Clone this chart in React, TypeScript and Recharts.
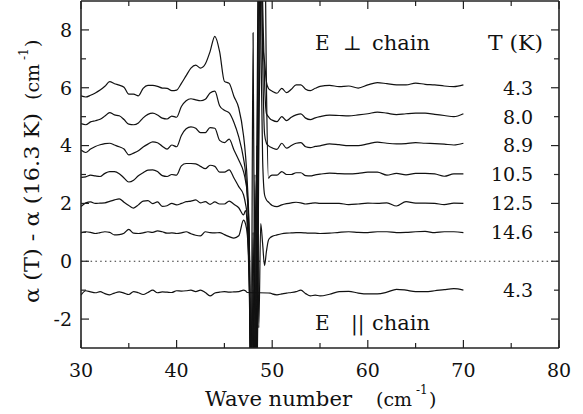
import React from 'react';
import { LineChart, Line, XAxis, YAxis, ReferenceLine, ReferenceDot } from 'recharts';

// Wave number grid (cm^-1)
const waveNumbers = [
  30, 30.5, 31, 31.5, 32, 32.5, 33, 33.5, 34, 34.5, 35, 35.5, 36, 36.5, 37, 37.5, 38, 38.5, 39, 39.5,
  40, 40.5, 41, 41.5, 42, 42.5, 43, 43.5, 44, 44.5, 45, 45.5, 46, 46.5, 47,
  47.2, 47.4, 47.6, 47.8, 48.0, 48.2, 48.4, 48.6, 48.8, 49.0, 49.2, 49.4, 49.6, 49.8,
  50, 50.5, 51, 51.5, 52, 52.5, 53, 53.5, 54, 54.5, 55,
  56, 57, 58, 59, 60, 61, 62, 63, 64, 65, 66, 67, 68, 69, 70,
];

// E perp chain, T = 4.3 K (offset 6)
const perp43 = [
  5.72, 5.68, 5.74, 5.82, 5.92, 6.05, 6.21, 6.14, 6.09, 6.02, 5.78, 5.78, 5.72, 5.98, 6.08, 6.08, 6.05, 5.99, 5.98, 5.9,
  5.92, 6.15, 6.42, 6.68, 6.78, 6.68, 6.82, 7.25, 7.78, 7.25, 6.22, 6.15, 5.7, 5.3, 4.35,
  3.7, 2.7, 0.8, -5, -3, -5, 4, 12, 11, 7.6, 6.9, 6.2, 5.98, 5.92,
  5.88, 5.81, 5.98, 5.83, 5.95, 6.1, 6.1, 5.95, 5.9, 5.98, 6.05,
  6.08, 6.04, 6.06, 5.99, 6.1, 6.18, 6.14, 6.1, 6.1, 6.16, 6.12, 6.1, 6.06, 6.04, 6.1,
];
// T = 8.0 K (offset 5)
const perp80 = [
  4.76, 4.72, 4.82, 4.86, 4.91, 5.02, 5.14, 5.06, 5.03, 4.9, 4.74, 4.72, 4.78, 4.96, 5.08, 5.12, 5.06, 4.95, 4.92, 5.02,
  4.98, 5.35, 5.55, 5.62, 5.58, 5.55, 5.6, 5.82, 5.88, 5.38, 5.22, 5.13, 4.8, 4.3, 3.55,
  3.1, 2.2, 0.5, -4, 7.9, -4, -6, 6, 12, 9, 6.2, 5.1, 5.0, 4.92,
  4.88, 4.83, 5.0, 4.86, 4.98, 5.06, 5.1, 4.95, 4.9, 4.96, 5.0,
  5.05, 5.04, 5.03, 5.06, 5.1, 5.16, 5.12, 5.07, 5.1, 5.12, 5.12, 5.08, 5.04, 5.0, 5.1,
];
// T = 8.9 K (offset 4)
const perp89 = [
  3.85, 3.76, 3.88, 3.97, 4.03, 4.07, 4.08, 4.02, 3.96, 3.88, 3.68, 3.74, 3.82, 3.95, 4.05, 4.13, 4.1, 3.98, 3.88, 4.02,
  3.96, 4.35, 4.58, 4.65, 4.6, 4.45, 4.45, 4.62, 4.6, 4.18, 4.1, 4.22, 3.85, 3.5, 3.1,
  2.8, 2.3, 0.8, -5, -4, 3, -4, 12, 12, 7, 4.4, 4.08, 4.0, 3.95,
  3.92, 3.87, 4.08, 3.91, 4.0, 4.08, 4.1, 3.96, 3.93, 3.97, 3.99,
  4.06, 4.03, 4.0, 4.0, 4.06, 4.12, 4.08, 4.06, 4.07, 4.1, 4.08, 4.07, 4.05, 4.02, 4.08,
];
// T = 10.5 K (offset 3)
const perp105 = [
  2.9, 2.92, 2.98, 2.95, 2.93, 3.04, 3.1, 3.1, 3.03, 2.88, 2.74, 2.8, 2.96, 3.06, 3.15, 3.16, 3.1, 2.96, 2.93, 3.0,
  2.98, 3.3, 3.38, 3.38, 3.37, 3.28, 3.2, 3.32, 3.28, 3.08, 3.08, 3.16, 2.88, 2.58, 2.3,
  2.0, 1.5, -0.5, -4.5, 1, -5, -5, 4, 10, 12, 12, 6, 2.87, 2.95,
  2.98, 2.98, 3.1, 3.0, 3.0, 3.06, 3.06, 2.96, 2.95, 2.99, 3.01,
  3.05, 3.03, 3.02, 3.04, 3.08, 3.08, 2.98, 3.04, 2.99, 3.04, 3.04, 3.02, 2.94, 3.02, 3.02,
];
// T = 12.5 K (offset 2)
const perp125 = [
  1.89, 2.02, 2.05, 2.0, 2.01, 2.02, 2.07, 2.12, 2.16, 2.04, 1.93, 1.84, 1.95, 2.08, 2.1, 1.99, 2.05, 1.9, 1.92, 2.0,
  1.95, 2.0, 2.06, 2.08, 2.12, 2.02, 2.06, 1.97, 2.05, 1.98, 1.98, 2.08, 1.97, 1.85, 1.6,
  1.75, 1.2, -1, -4.5, -1, -4.8, 2, 10.5, 8, 3.5, 2.3, 2.12, 2.05, 1.98,
  1.93, 1.89, 1.95, 1.99, 2.02, 2.04, 2.02, 1.98, 2.0, 2.02, 2.0,
  2.0, 2.0, 1.96, 1.98, 2.01, 2.0, 2.02, 1.91, 2.06, 2.01, 2.01, 2.0, 1.96, 2.01, 2.0,
];
// T = 14.6 K (offset 1)
const perp146 = [
  0.98, 1.02, 1.0, 0.96, 0.99, 1.02, 1.0, 0.91, 0.92, 0.97, 1.1, 0.97, 0.96, 0.98, 1.02, 1.0, 1.05, 1.02, 0.97, 0.98,
  0.96, 0.98, 1.02, 0.95, 0.9, 0.88, 1.02, 0.99, 0.98, 0.99, 0.92, 0.85, 0.8, 0.88, 1.42,
  1.3, 0.9, -0.5, -4.5, -2, -4, 4, -2.3, 1.3, 0.6, -0.15, 0.35, 0.72, 0.82,
  0.86, 0.91, 0.95, 0.97, 0.98, 0.99, 0.99, 0.98, 0.97, 0.97, 0.96,
  0.97, 1.0, 1.02, 1.0, 0.99, 1.02, 1.02, 0.99, 1.0, 1.02, 1.03, 0.99, 1.02, 1.02, 0.99,
];
// E parallel chain, T = 4.3 K (offset -1)
const para43 = [
  -1.17, -1.02, -1.06, -1.09, -1.05, -1.12, -1.16, -1.1, -1.06, -1.1, -1.15, -1.05, -1.09, -1.15, -1.08, -1.0, -1.09, -1.06, -1.07, -1.08,
  -1.02, -1.03, -1.02, -1.0, -1.05, -1.0, -1.08, -1.2, -1.1, -1.07, -1.05, -1.07, -1.06, -1.05, -1.0,
  -1.02, -1.08, null, null, null, null, null, null, null, null, null, null, null, -1.1,
  -1.13, -1.16, -1.13, -1.1, -1.08, -1.05, -1.0, -1.12, -1.2, -1.17, -1.2,
  -1.14, -1.05, -1.04, -1.1, -1.13, -1.13, -1.07, -0.97, -1.0, -1.05, -1.05, -1.02, -0.98, -0.95, -1.0,
];

const seriesKeys = ['p43', 'p80', 'p89', 'p105', 'p125', 'p146', 'q43'];
const seriesValues = [perp43, perp80, perp89, perp105, perp125, perp146, para43];
const tempLabels = ['4.3', '8.0', '8.9', '10.5', '12.5', '14.6', '4.3'];
const tempLevels = [6, 5, 4, 3, 2, 1, -1];
const tempLabelX = 77.3;

const xTicks = [30, 35, 40, 45, 50, 55, 60, 65, 70, 75, 80];
const yTicks = [-2, -1, 0, 1, 2, 3, 4, 5, 6, 7, 8];

const rows = waveNumbers.map((x, i) => {
  const r: Record<string, number | null> = { x };
  seriesKeys.forEach((k, j) => { r[k] = seriesValues[j][i]; });
  return r;
});

const FONT = "'DejaVu Serif', serif";
const INK = '#111';
const FRAME = '#222';
const txt = { fontFamily: FONT };
const TICK_FS = 19;
const TITLE_FS = 20;

function BottomTick(props: any) {
  const { x, y, payload } = props;
  const v = payload.value;
  const major = v % 10 === 0;
  return (
    <g>
      <line x1={x} x2={x} y1={y} y2={y - (major ? 8 : 5)} stroke={FRAME} strokeWidth={1.2} />
      {major && (
        <text x={x} y={y + 29} textAnchor="middle" fontSize={TICK_FS} style={txt} fill={INK}>{v}</text>
      )}
    </g>
  );
}
function TopTick(props: any) {
  const { x, y, payload } = props;
  const major = payload.value % 10 === 0;
  return <line x1={x} x2={x} y1={y} y2={y + (major ? 8 : 5)} stroke={FRAME} strokeWidth={1.2} />;
}
function LeftTick(props: any) {
  const { x, y, payload } = props;
  const v = payload.value;
  const major = v % 2 === 0;
  return (
    <g>
      <line x1={x} x2={x + (major ? 8 : 5)} y1={y} y2={y} stroke={FRAME} strokeWidth={1.2} />
      {major && (
        <text x={x - 9} y={y} dy="0.36em" textAnchor="end" fontSize={TICK_FS} style={txt} fill={INK}>{v}</text>
      )}
    </g>
  );
}
function RightTick(props: any) {
  const { x, y, payload } = props;
  const major = payload.value % 2 === 0;
  return <line x1={x} x2={x - (major ? 8 : 5)} y1={y} y2={y} stroke={FRAME} strokeWidth={1.2} />;
}

export default function App() {
  return (
    <div style={{ position: 'absolute', left: 0, top: 0, width: 583, height: 414, background: '#fff' }}>
      <LineChart width={583} height={414} data={rows} margin={{ top: 0, right: 20, bottom: 36, left: 21 }}>
        <XAxis dataKey="x" type="number" domain={[30, 80]} ticks={xTicks} interval={0} height={30}
          allowDataOverflow tickSize={0} tickMargin={0} tickLine={false} tick={BottomTick}
          axisLine={{ stroke: FRAME, strokeWidth: 1.6 }} />
        <XAxis xAxisId="top" orientation="top" dataKey="x" type="number" domain={[30, 80]} ticks={xTicks}
          interval={0} height={1} allowDataOverflow tickSize={0} tickMargin={0} tickLine={false} tick={TopTick}
          axisLine={{ stroke: FRAME, strokeWidth: 1.6 }} />
        <YAxis type="number" domain={[-3, 9]} ticks={yTicks} interval={0} width={60} allowDataOverflow
          tickSize={0} tickMargin={0} tickLine={false} tick={LeftTick}
          axisLine={{ stroke: FRAME, strokeWidth: 1.6 }} />
        <YAxis yAxisId="right" orientation="right" type="number" domain={[-3, 9]} ticks={yTicks} interval={0}
          width={4} allowDataOverflow tickSize={0} tickMargin={0} tickLine={false} tick={RightTick}
          axisLine={{ stroke: FRAME, strokeWidth: 1.6 }} />
        <ReferenceLine y={0} stroke="#333" strokeWidth={1.2} strokeDasharray="1.5 3.3" />
        {seriesKeys.map((k) => (
          <Line key={k} type="monotone" dataKey={k} stroke={INK} strokeWidth={1.2} dot={false}
            connectNulls isAnimationActive={false} />
        ))}
        {tempLabels.map((t, j) => (
          <ReferenceDot key={'t' + j} x={tempLabelX} y={tempLevels[j]} r={0}
            shape={(p: any) => (
              <text x={p.cx} y={p.cy} dy="0.36em" textAnchor="end" fontSize={TICK_FS} style={txt} fill={INK}>{t}</text>
            )} />
        ))}
      </LineChart>
      <svg width={583} height={414} style={{ position: 'absolute', left: 0, top: 0, pointerEvents: 'none', fontFamily: FONT }}
        fill={INK}>
        <text x={315} y={50} fontSize={TITLE_FS} style={txt}>E</text>
        <text x={343} y={50} fontSize={TITLE_FS} style={txt}>⊥</text>
        <text x={372} y={50} fontSize={TITLE_FS} style={txt} textLength={58} lengthAdjust="spacingAndGlyphs">chain</text>
        <text x={488} y={50} fontSize={TITLE_FS} style={txt} textLength={55} lengthAdjust="spacingAndGlyphs">T (K)</text>
        <text x={315} y={330} fontSize={TITLE_FS} style={txt}>E</text>
        <text x={351} y={330} fontSize={TITLE_FS} style={txt}>||</text>
        <text x={372} y={330} fontSize={TITLE_FS} style={txt} textLength={58} lengthAdjust="spacingAndGlyphs">chain</text>
        <text x={205} y={406} fontSize={21} style={txt} textLength={147} lengthAdjust="spacingAndGlyphs">Wave number</text>
        <text x={376} y={406} fontSize={19} style={txt}>(cm</text>
        <text x={416} y={394} fontSize={12} style={txt}>-1</text>
        <text x={429} y={406} fontSize={19} style={txt}>)</text>
        <g transform="translate(39,0) rotate(-90)">
          <text x={-303} y={0} fontSize={21} style={txt} textLength={190} lengthAdjust="spacingAndGlyphs">α (T) - α (16.3 K)</text>
          <text x={-100} y={0} fontSize={19} style={txt}>(cm</text>
          <text x={-60} y={-11} fontSize={12} style={txt}>-1</text>
          <text x={-47} y={0} fontSize={19} style={txt}>)</text>
        </g>
      </svg>
    </div>
  );
}
